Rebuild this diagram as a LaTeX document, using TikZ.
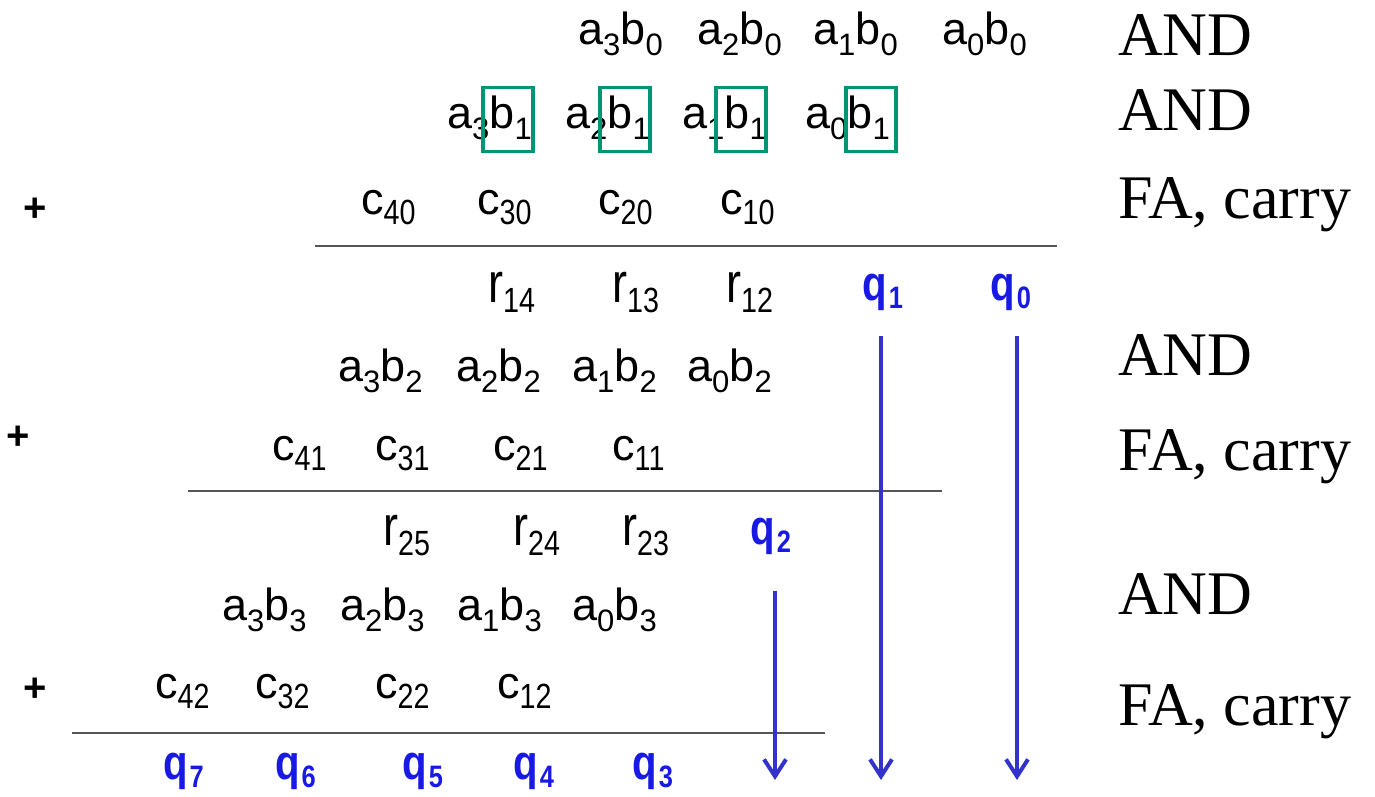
\documentclass[tikz,border=0pt]{standalone}
\usepackage{fontspec}
\setmainfont{Liberation Serif}
\setsansfont{Liberation Sans}
\newfontfamily\narrowsans[FakeStretch=0.82]{Liberation Sans}
\newfontfamily\qfont[FakeStretch=0.82]{Liberation Sans}
\usepackage{xcolor}
\usepackage{graphicx}
\usetikzlibrary{arrows.meta}
\definecolor{boxgreen}{RGB}{0,150,115}
\definecolor{qblue}{RGB}{25,25,230}
\definecolor{arrowblue}{RGB}{51,51,204}
\definecolor{rulegray}{RGB}{85,85,85}
\newcommand{\lo}[1]{\raisebox{-11pt}{\fontsize{31}{31}\selectfont #1}}
\newcommand{\nlo}[1]{\raisebox{-10pt}{\narrowsans\fontsize{35}{35}\selectfont #1}}
\newcommand{\ab}[2]{a\lo{#1}b\lo{#2}}
\newcommand{\cc}[1]{c\nlo{#1}}
\newcommand{\rr}[1]{\scalebox{1}[1.25]{r}\nlo{#1}}
\newcommand{\qq}[1]{q\kern2pt\raisebox{-8pt}{\fontsize{31}{31}\selectfont #1}}

\begin{document}
\begin{tikzpicture}[x=1pt, y=-1pt,
    term/.style={anchor=base west, inner sep=0pt, font=\sffamily\fontsize{45}{45}\selectfont},
    res/.style={term, text=qblue, font=\qfont\bfseries\fontsize{49}{49}\selectfont},
    op/.style={anchor=base west, inner sep=0pt, font=\fontsize{62}{62}\selectfont},
    plus/.style={inner sep=0pt, font=\sffamily\bfseries\fontsize{40}{40}\selectfont},
    hl/.style={draw=boxgreen, line width=3.5pt, minimum width=50pt, minimum height=64pt, inner sep=0pt},
    sumline/.style={rulegray, line width=2.5pt},
    flow/.style={arrowblue, line width=4pt, -{Straight Barb[length=17pt, width=22pt]}}]
  \useasboundingbox (0,0) rectangle (1375,796);

  % partial products b0 and b1
  \node[term] (p30) at (578,44) {\ab{3}{0}};
  \node[term] (p20) at (697,44) {\ab{2}{0}};
  \node[term] (p10) at (813,44) {\ab{1}{0}};
  \node[term] (p00) at (942,44) {\ab{0}{0}};

  \node[term] (p31) at (447,128) {\ab{3}{1}};
  \node[term] (p21) at (565,128) {\ab{2}{1}};
  \node[term] (p11) at (682,128) {\ab{1}{1}};
  \node[term] (p01) at (805,128) {\ab{0}{1}};

  % green boxes round b1
  \node[hl] (h3) at (508,119.5) {};
  \node[hl] (h2) at (625,119.5) {};
  \node[hl] (h1) at (741,119.5) {};
  \node[hl] (h0) at (871,119.5) {};

  % first carries
  \node[plus] (plus1) at (35,210) {+};
  \node[term] (c40) at (361,214) {\cc{40}};
  \node[term] (c30) at (477,214) {\cc{30}};
  \node[term] (c20) at (598,214) {\cc{20}};
  \node[term] (c10) at (720,214) {\cc{10}};
  \draw[sumline] (315,246) -- (1057,246);

  \node[term] (r14) at (488,302) {\rr{14}};
  \node[term] (r13) at (612,302) {\rr{13}};
  \node[term] (r12) at (726,302) {\rr{12}};
  \node[res] (q1) at (862,300) {\qq{1}};
  \node[res] (q0) at (990,300) {\qq{0}};

  % b2
  \node[term] (p32) at (338,381) {\ab{3}{2}};
  \node[term] (p22) at (456,381) {\ab{2}{2}};
  \node[term] (p12) at (572,381) {\ab{1}{2}};
  \node[term] (p02) at (687,381) {\ab{0}{2}};

  \node[plus] (plus2) at (18,438) {+};
  \node[term] (c41) at (272,460) {\cc{41}};
  \node[term] (c31) at (375,460) {\cc{31}};
  \node[term] (c21) at (493,460) {\cc{21}};
  \node[term] (c11) at (612,460) {\cc{11}};
  \draw[sumline] (188,491) -- (942,491);

  \node[term] (r25) at (383,545) {\rr{25}};
  \node[term] (r24) at (513,545) {\rr{24}};
  \node[term] (r23) at (622,545) {\rr{23}};
  \node[res] (q2) at (750,544) {\qq{2}};

  % b3
  \node[term] (p33) at (222,620) {\ab{3}{3}};
  \node[term] (p23) at (340,620) {\ab{2}{3}};
  \node[term] (p13) at (457,620) {\ab{1}{3}};
  \node[term] (p03) at (572,620) {\ab{0}{3}};

  \node[plus] (plus3) at (35,690) {+};
  \node[term] (c42) at (155,698) {\cc{42}};
  \node[term] (c32) at (255,698) {\cc{32}};
  \node[term] (c22) at (375,698) {\cc{22}};
  \node[term] (c12) at (497,698) {\cc{12}};
  \draw[sumline] (72,733) -- (825,733);

  \node[res] (q7) at (163,779) {\qq{7}};
  \node[res] (q6) at (275,779) {\qq{6}};
  \node[res] (q5) at (402,779) {\qq{5}};
  \node[res] (q4) at (513,779) {\qq{4}};
  \node[res] (q3) at (632,779) {\qq{3}};

  % operations
  \node[op] (op1) at (1118,55) {AND};
  \node[op] (op2) at (1118,130) {AND};
  \node[op] (op3) at (1118,218) {FA, carry};
  \node[op] (op4) at (1118,375) {AND};
  \node[op] (op5) at (1118,470) {FA, carry};
  \node[op] (op6) at (1118,614) {AND};
  \node[op] (op7) at (1118,725) {FA, carry};

  % bits passed down
  \coordinate (s2) at (775,591);
  \coordinate (s1) at (881,336);
  \coordinate (s0) at (1017,336);
  \coordinate (e2) at (775,780);
  \coordinate (e1) at (881,780);
  \coordinate (e0) at (1017,780);
  \draw[flow] (s2) -- (e2);
  \draw[flow] (s1) -- (e1);
  \draw[flow] (s0) -- (e0);
\end{tikzpicture}
\end{document}
